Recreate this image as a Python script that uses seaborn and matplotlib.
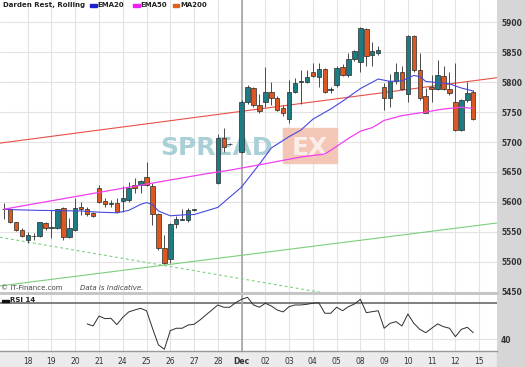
import numpy as np
import pandas as pd
import seaborn as sns
import matplotlib.pyplot as plt
from matplotlib.patches import Rectangle

# posizione delle candele (4 candele per giorno), prezzi
candle_slot = list(range(0, 33)) + [36, 37, 38] + list(range(40, 80))
opens = [5588, 5588, 5566, 5554, 5537, 5543, 5543, 5565, 5556, 5556,
         5590, 5541, 5553, 5591, 5588, 5582, 5623, 5602, 5596, 5598,
         5602, 5603, 5628, 5628, 5641, 5627, 5580, 5523, 5505, 5564,
         5570, 5570, 5587,
         5631, 5706, 5697,
         5684, 5767, 5790, 5762, 5767, 5784, 5773, 5756, 5739, 5784,
         5800, 5800, 5817, 5809, 5821, 5787, 5795, 5825, 5812, 5838,
         5834, 5888, 5845, 5849, 5792, 5774, 5802, 5816, 5780, 5876,
         5820, 5776, 5791, 5789, 5810, 5789, 5767, 5720, 5770, 5784]
closes = [5589, 5566, 5553, 5543, 5545, 5544, 5566, 5556, 5558, 5588,
          5541, 5556, 5590, 5588, 5580, 5577, 5600, 5596, 5598, 5583,
          5606, 5623, 5623, 5635, 5628, 5580, 5524, 5498, 5563, 5571,
          5571, 5587, 5588,
          5706, 5692, 5696,
          5767, 5792, 5762, 5751, 5784, 5774, 5754, 5749, 5784, 5798,
          5802, 5808, 5810, 5822, 5784, 5788, 5824, 5812, 5838, 5851,
          5890, 5843, 5852, 5853, 5774, 5802, 5816, 5789, 5877, 5820,
          5773, 5749, 5788, 5812, 5789, 5781, 5720, 5770, 5781, 5739]
highs = [5599, 5590, 5567, 5556, 5550, 5548, 5567, 5567, 5587, 5589,
         5591, 5573, 5607, 5600, 5592, 5584, 5628, 5606, 5603, 5606,
         5626, 5634, 5640, 5637, 5667, 5632, 5582, 5545, 5565, 5577,
         5589, 5590, 5589,
         5714, 5723, 5698,
         5770, 5795, 5792, 5780, 5825, 5800, 5776, 5761, 5803, 5806,
         5820, 5820, 5832, 5831, 5823, 5792, 5826, 5830, 5849, 5853,
         5891, 5890, 5866, 5860, 5798, 5814, 5832, 5826, 5878, 5878,
         5848, 5790, 5812, 5836, 5826, 5817, 5832, 5772, 5800, 5787]
lows = [5572, 5565, 5551, 5541, 5532, 5537, 5542, 5554, 5540, 5555,
        5537, 5540, 5552, 5578, 5577, 5575, 5598, 5592, 5592, 5581,
        5584, 5600, 5615, 5615, 5627, 5562, 5520, 5497, 5498, 5557,
        5570, 5567, 5585,
        5630, 5684, 5695,
        5681, 5764, 5758, 5749, 5759, 5761, 5751, 5744, 5731, 5781,
        5764, 5798, 5808, 5792, 5781, 5782, 5792, 5810, 5808, 5835,
        5817, 5826, 5826, 5845, 5753, 5758, 5797, 5787, 5766, 5816,
        5770, 5748, 5767, 5786, 5786, 5778, 5719, 5719, 5767, 5737]

# medie mobili
ema20_slot = [0, 2, 6, 10, 13, 16, 19, 21, 23, 24, 25, 26, 28, 31, 32, 34, 36,
              40, 43, 45, 48, 50, 52, 55, 57, 60, 63, 65, 67, 69, 70, 71, 73,
              75, 77, 79]
ema20 = [5588, 5587, 5586, 5585.5, 5585, 5583, 5582, 5586, 5596, 5599, 5596,
         5585, 5577, 5579, 5579, 5585, 5591, 5625, 5663, 5690, 5709, 5720,
         5738, 5755, 5768, 5789, 5805, 5801, 5802, 5811, 5809, 5801, 5799,
         5797, 5790, 5785]
ema50_slot = [0, 16, 34, 38, 43, 50, 54, 55, 58, 60, 62, 64, 67, 71, 74, 77, 79]
ema50 = [5588, 5616, 5647, 5653, 5662, 5675, 5680, 5686, 5706, 5718, 5724,
         5736, 5744, 5750, 5755, 5758, 5756]
ma200_slot = [0, 79]
ma200 = [5699, 5802]

# linee di tendenza verdi
trend_up_slot = [0, 79]
trend_up = [5461, 5560]
trend_dn_slot = [0, 40]
trend_dn = [5540, 5472]

# RSI 14
rsi_slot = list(range(14, 80))
rsi = [52.8, 51.1, 59.4, 57.2, 57.5, 52.2, 58.3, 62.8, 64.4, 65.8,
       63.8, 49.2, 35.3, 31.7, 47.2, 49.2, 49.2, 51.9, 52.5, 56.1,
       60.3, 64.4, 68.6, 66.7, 66.7, 70.5, 73.3, 75.0, 68.6, 66.7,
       70.0, 67.8, 64.4, 62.8, 67.2, 68.6, 68.6, 69.2, 70.0, 70.5,
       61.7, 61.7, 66.7, 63.8, 67.2, 69.4, 73.3, 62.2, 63.0, 63.8,
       49.2, 53.3, 54.7, 51.1, 61.1, 53.3, 48.3, 45.5, 49.2, 52.8,
       50.5, 49.2, 42.2, 48.3, 50.0, 45.5]

day_labels = ['18', '19', '20', '21', '24', '25', '26', '27', '28', 'Dec',
              '02', '03', '04', '05', '08', '09', '10', '11', '12', '15']
day_slot = list(range(4, 84, 4))
price_ticks = [5450, 5500, 5550, 5600, 5650, 5700, 5750, 5800, 5850, 5900]

df = pd.DataFrame({'slot': candle_slot, 'open': opens, 'high': highs,
                   'low': lows, 'close': closes})

W, H = 525, 367
def fx(p):
    return p / W
def fy(p):
    return 1 - p / H

sns.set_style('white')
plt.rcParams['font.family'] = ['DejaVu Sans']

fig = plt.figure(figsize=(W / 100, H / 100), dpi=100, facecolor='#ebebeb')
fig.add_artist(Rectangle((fx(497), 0), fx(28), 1, transform=fig.transFigure,
                         color='#d6d6d6', zorder=-5))

ax = fig.add_axes([0, fy(293), fx(497), 293 / H])
ax2 = fig.add_axes([0, fy(351), fx(497), 56 / H])

teal = '#1d7c83'
orange = '#db5822'
grid_c = '#e3e3e3'

# --- pannello prezzi ---
ax.set_xlim(-0.67, 83.0)
ax.set_ylim(5448.3, 5936.7)
for s in day_slot:
    ax.axvline(s, color=grid_c, lw=0.8, zorder=0)
for p in price_ticks:
    ax.axhline(p, color=grid_c, lw=0.8, zorder=0)
ax.axvline(40, color='#a9a9a9', lw=1.3, zorder=1)

# watermark
ax.text(fx(160) * W / 497, (293 - 155) / 293, 'SPREAD', transform=ax.transAxes,
        fontsize=18, fontweight='bold', color='#a9d0d6', va='baseline',
        ha='left', zorder=0.5)
ax.add_patch(Rectangle((283 / 497, (293 - 163) / 293), 54 / 497, 35 / 293,
                       transform=ax.transAxes, color='#f3c6b6', zorder=0.5))
ax.text(310 / 497, (293 - 155) / 293, 'EX', transform=ax.transAxes,
        fontsize=18, fontweight='bold', color='#fbeee9', va='baseline',
        ha='center', zorder=0.6)

ax.axline((trend_up_slot[0], trend_up[0]), (trend_up_slot[1], trend_up[1]),
          color='#7ccf7c', lw=0.8, zorder=2)
ax.axline((trend_dn_slot[0], trend_dn[0]), (trend_dn_slot[1], trend_dn[1]),
          color='#7ccf7c', lw=0.8, ls=(0, (2.5, 2.5)), zorder=2)
ax.axline((ma200_slot[0], ma200[0]), (ma200_slot[1], ma200[1]),
          color='#e85048', lw=0.8, zorder=2)

# candele
ax.vlines(df['slot'], df['low'], df['high'], color='#4a4a4a', lw=0.7, zorder=3)
bull = df['close'] >= df['open']
body_lo = df[['open', 'close']].min(axis=1)
body_h = (df['close'] - df['open']).abs()
ax.bar(df['slot'], body_h, bottom=body_lo, width=0.75,
       color=np.where(bull, teal, orange), edgecolor='#2a2a2a', linewidth=0.5,
       zorder=4)

sns.lineplot(x=ema20_slot, y=ema20, color='#4848e0', lw=0.8, ax=ax, zorder=5)
sns.lineplot(x=ema50_slot, y=ema50, color='#f040f0', lw=0.9, ax=ax, zorder=5)

ax.yaxis.tick_right()
ax.set_yticks(price_ticks)
ax.set_yticklabels([str(p) for p in price_ticks], fontsize=5.5,
                   fontweight='bold', color='#333333')
ax.tick_params(axis='y', length=0, pad=3)
ax.set_xticks([])
for side in ['top', 'left', 'right']:
    ax.spines[side].set_visible(False)
ax.spines['bottom'].set_color('#c4c4c4')
ax.spines['bottom'].set_linewidth(2)

ax.text(1 / 497, (293 - 288) / 293, '\u00a9 IT-Finance.com', transform=ax.transAxes,
        fontsize=5, color='#444444', va='center', ha='left', zorder=6)
ax.text(80 / 497, (293 - 288) / 293, 'Data is Indicative.', transform=ax.transAxes,
        fontsize=5, color='#444444', style='italic', va='center', ha='left',
        zorder=6)

# --- pannello RSI ---
ax2.set_xlim(-0.67, 83.0)
ax2.set_ylim(30.25, 76.9)
for s in day_slot:
    ax2.axvline(s, color=grid_c, lw=0.8, zorder=0)
ax2.axhline(40, color=grid_c, lw=0.8, zorder=0)
ax2.axhline(70, color='#6a6a6a', lw=1.2, zorder=1)
ax2.axvline(40, color='#a9a9a9', lw=1.3, zorder=1)
sns.lineplot(x=rsi_slot, y=rsi, color='#2e2e2e', lw=0.7, ax=ax2, zorder=3)

ax2.yaxis.tick_right()
ax2.set_yticks([40])
ax2.set_yticklabels(['40'], fontsize=5.5, fontweight='bold', color='#333333')
ax2.tick_params(axis='y', length=0, pad=3)
ax2.set_xticks(day_slot)
ax2.set_xticklabels(day_labels, fontsize=5.5, color='#333333')
ax2.tick_params(axis='x', length=0, pad=4)
for t in ax2.get_xticklabels():
    if t.get_text() == 'Dec':
        t.set_fontweight('bold')
for side in ['top', 'left', 'right']:
    ax2.spines[side].set_visible(False)
ax2.spines['bottom'].set_color('#999999')
ax2.spines['bottom'].set_linewidth(1)
ax2.set_xlabel('')
ax2.set_ylabel('')

# titolo e legenda in alto
fig.text(fx(3), fy(5), 'Darden Rest, Rolling', fontsize=5, fontweight='bold',
         color='#222222', va='center', ha='left')
leg = [('EMA20', '#2020d0', 90), ('EMA50', '#f020f0', 133), ('MA200', '#e06020', 173)]
for name, col, px in leg:
    fig.add_artist(Rectangle((fx(px), fy(7)), fx(6.5), 3.5 / H,
                             transform=fig.transFigure, color=col))
    fig.text(fx(px + 7.5), fy(5), name, fontsize=5, fontweight='bold',
             color='#222222', va='center', ha='left')

fig.add_artist(Rectangle((fx(2), fy(302)), fx(7), 2.5 / H,
                         transform=fig.transFigure, color='#111111', zorder=10))
fig.text(fx(10.5), fy(300.3), 'RSI 14', fontsize=5, fontweight='bold',
         color='#222222', va='center', ha='left', zorder=10)

fig.savefig('out.png', dpi=100, facecolor=fig.get_facecolor())
